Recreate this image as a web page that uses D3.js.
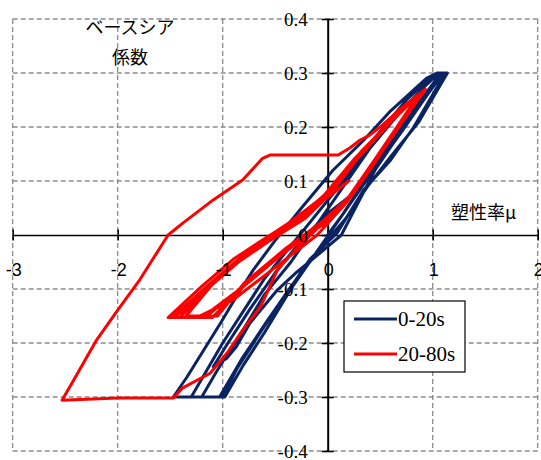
<!DOCTYPE html>
<html>
<head>
<meta charset="utf-8">
<script src="https://cdn.jsdelivr.net/npm/d3@7"></script>
<style>
  body { margin: 0; background: #fff; }
  svg { display: block; }
  .serif { font-family: "Liberation Serif", "Times New Roman", serif; }
  .sans { font-family: "Liberation Sans", Arial, Helvetica, sans-serif; }
  .jp { font-family: "Noto Sans CJK JP", sans-serif; }
</style>
</head>
<body>
<div id="chart"></div>
<script>
// axis ticks
const xTicks = [-3, -2, -1, 0, 1, 2];
const xTickLabels = ["-3", "-2", "-1", "0", "1", "2"];
const yTicks = [-0.4, -0.3, -0.2, -0.1, 0, 0.1, 0.2, 0.3, 0.4];
const yTickLabels = ["-0.4", "-0.3", "-0.2", "-0.1", "0", "0.1", "0.2", "0.3", "0.4"];

// series names
const seriesNames = ["0-20s", "20-80s"];

// 0-20s (ductility, base shear coefficient)
const blue = [
    [0, 0], [0.15, 0.04], [0.35, 0.1], [0.6, 0.17], [0.85, 0.24], [1.04, 0.29], [1.1, 0.3],
    [0.95, 0.26], [0.7, 0.19], [0.4, 0.11], [0.15, 0.04], [-0.1, -0.03], [-0.35, -0.1], [-0.6, -0.18], [-0.8, -0.24], [-0.98, -0.3], [-1.2, -0.3],
    [-1.05, -0.25], [-0.85, -0.19], [-0.6, -0.11], [-0.35, -0.05], [-0.1, 0.02], [0.15, 0.09], [0.4, 0.16], [0.7, 0.23], [0.95, 0.28], [1.06, 0.3], [1.12, 0.3],
    [0.82, 0.2], [0.6, 0.139], [0.34, 0.083], [0.09, 0.004], [-0.17, -0.045], [-0.43, -0.119], [-0.64, -0.18], [-0.86, -0.246], [-1.0, -0.3], [-1.47, -0.3],
    [-1.34, -0.263], [-1.18, -0.213], [-1.02, -0.163], [-0.87, -0.114], [-0.71, -0.065], [-0.5, -0.01], [-0.25, 0.05], [0.05, 0.12], [0.34, 0.175], [0.6, 0.23], [0.94, 0.29], [1.04, 0.3], [1.14, 0.3],
    [0.87, 0.21], [0.62, 0.15], [0.38, 0.09], [0.17, 0.03], [-0.05, -0.02], [-0.33, -0.09], [-0.58, -0.16], [-0.82, -0.23], [-1.03, -0.3], [-1.3, -0.3],
    [-1.15, -0.25], [-1.0, -0.2], [-0.8, -0.14], [-0.6, -0.08], [-0.35, -0.02], [-0.1, 0.04], [0.15, 0.1], [0.45, 0.18], [0.75, 0.25], [1.0, 0.295], [1.08, 0.3],
    [0.8, 0.22], [0.45, 0.12], [0.13, 0.0], [-0.04, -0.028], [-0.29, -0.068], [-0.48, -0.102], [-0.74, -0.163], [-0.87, -0.207], [-0.96, -0.228], [-1.09, -0.244],
    [-0.95, -0.2], [-0.75, -0.14], [-0.5, -0.07], [-0.25, -0.01], [0.0, 0.04], [0.2, 0.07]
];

// 20-80s
const red = [
    [0.2, 0.07], [0.0, 0.03], [-0.25, -0.015], [-0.48, -0.065], [-0.64, -0.133], [-0.81, -0.176], [-0.96, -0.219], [-1.12, -0.256], [-1.38, -0.283], [-1.47, -0.302], [-2.0, -0.302], [-2.53, -0.306],
    [-2.42, -0.269], [-2.2, -0.194], [-2.0, -0.139], [-1.79, -0.083], [-1.52, 0.0], [-1.38, 0.022], [-1.09, 0.065], [-0.81, 0.102], [-0.62, 0.142], [-0.55, 0.148], [0.1, 0.148], [0.21, 0.161], [0.31, 0.176], [0.4, 0.185], [0.5, 0.2], [0.7, 0.235], [0.93, 0.27],
    [0.75, 0.22], [0.5, 0.15], [0.25, 0.08], [0.0, 0.025], [-0.35, -0.02], [-0.75, -0.085], [-1.1, -0.153], [-1.52, -0.153],
    [-1.2, -0.095], [-0.9, -0.045], [-0.58, -0.004], [-0.26, 0.035], [0.05, 0.088], [0.3, 0.15], [0.55, 0.2], [0.9, 0.265],
    [0.72, 0.215], [0.47, 0.14], [0.22, 0.07], [-0.05, 0.02], [-0.4, -0.03], [-0.8, -0.095], [-1.2, -0.153], [-1.41, -0.153],
    [-1.1, -0.09], [-0.8, -0.04], [-0.5, 0.0], [-0.2, 0.04], [0.08, 0.095], [0.32, 0.155], [0.6, 0.21], [0.88, 0.262],
    [0.7, 0.21], [0.42, 0.13], [0.18, 0.06], [-0.1, 0.0], [-0.5, -0.06], [-0.9, -0.12], [-1.25, -0.153], [-1.46, -0.153],
    [-1.15, -0.1], [-0.85, -0.05], [-0.55, -0.01], [-0.22, 0.03], [0.02, 0.075], [0.3, 0.145], [0.58, 0.205], [0.86, 0.258],
    [0.68, 0.205], [0.4, 0.125], [0.15, 0.055], [-0.15, 0.005], [-0.5, -0.045], [-0.9, -0.11], [-1.15, -0.15], [-1.35, -0.15],
    [-1.05, -0.08], [-0.7, -0.02], [-0.35, 0.025], [-0.05, 0.07], [0.25, 0.14], [0.55, 0.2], [0.87, 0.26],
    [0.7, 0.212], [0.45, 0.14], [0.2, 0.07], [-0.05, 0.025], [-0.4, -0.025], [-0.8, -0.09], [-1.05, -0.15], [-1.48, -0.153],
    [-1.18, -0.1], [-0.88, -0.05], [-0.6, -0.01], [-0.3, 0.025], [0.0, 0.07], [0.2, 0.1]
];

const colors = ["#0a2463", "#ff0000"];

const width = 541, height = 460;

const svg = d3.select("#chart").append("svg")
    .attr("width", width)
    .attr("height", height);

// scales
const x = d3.scaleLinear().domain([-3, 2]).range([12.7, 537.7]);
const y = d3.scaleLinear().domain([-0.4, 0.4]).range([451, 19]);

// dashed grid
const grid = svg.append("g").attr("class", "grid")
    .attr("stroke", "#8c8c8c")
    .attr("stroke-width", 1.3)
    .attr("stroke-dasharray", "5,3");

grid.selectAll("line.gx")
    .data(xTicks.filter(d => d !== 0))
    .enter().append("line")
    .attr("x1", d => x(d)).attr("x2", d => x(d))
    .attr("y1", y(0.4)).attr("y2", y(-0.4));

grid.selectAll("line.gy")
    .data(yTicks.filter(d => d !== 0))
    .enter().append("line")
    .attr("x1", x(-3)).attr("x2", x(2))
    .attr("y1", d => y(d)).attr("y2", d => y(d));

// axes crossing at the origin
const xAxis = d3.axisBottom(x).tickValues(xTicks).tickSize(0).tickFormat("");
const yAxis = d3.axisLeft(y).tickValues(yTicks).tickSize(0).tickFormat("");

const gx = svg.append("g").attr("transform", "translate(0," + y(0) + ")").call(xAxis);
gx.select(".domain").attr("stroke", "#000").attr("stroke-width", 1.6);
gx.selectAll(".tick line").attr("y1", -5.5).attr("y2", 5.5).attr("stroke", "#000").attr("stroke-width", 1.6);

const gy = svg.append("g").attr("transform", "translate(" + x(0) + ",0)").call(yAxis);
gy.select(".domain").attr("stroke", "#000").attr("stroke-width", 2);
gy.selectAll(".tick line").attr("x1", -6).attr("x2", 6).attr("stroke", "#000").attr("stroke-width", 1.6);

// series
const line = d3.line().x(d => x(d[0])).y(d => y(d[1]));

[blue, red].forEach((s, i) => {
    svg.append("path")
        .datum(s)
        .attr("d", line)
        .attr("fill", "none")
        .attr("stroke", colors[i])
        .attr("stroke-width", 3)
        .attr("stroke-linejoin", "round")
        .attr("stroke-linecap", "round");
});

// tick labels (drawn over the lines like the original)
svg.append("g").selectAll("text")
    .data(xTicks)
    .enter().append("text")
    .attr("class", "sans")
    .attr("x", d => x(d) + 1)
    .attr("y", y(0) + 41)
    .attr("text-anchor", "middle")
    .style("font-size", "18px")
    .text((d, i) => xTickLabels[i]);

svg.append("g").selectAll("text")
    .data(yTicks)
    .enter().append("text")
    .attr("class", "serif")
    .attr("x", x(0) - 20)
    .attr("y", d => y(d))
    .attr("dy", "0.35em")
    .attr("text-anchor", "end")
    .style("font-size", "19px")
    .text((d, i) => yTickLabels[i]);

// axis titles
svg.append("text")
    .attr("class", "jp")
    .attr("x", 130).attr("y", 34)
    .attr("text-anchor", "middle")
    .style("font-size", "18px")
    .text("ベースシア");
svg.append("text")
    .attr("class", "jp")
    .attr("x", 130).attr("y", 64)
    .attr("text-anchor", "middle")
    .style("font-size", "18px")
    .text("係数");
svg.append("text")
    .attr("class", "jp")
    .attr("x", 451).attr("y", 219)
    .style("font-size", "18px")
    .text("塑性率μ");

// legend
const legend = svg.append("g").attr("transform", "translate(344,301)");
legend.append("rect")
    .attr("width", 121).attr("height", 71)
    .attr("fill", "#fff").attr("stroke", "#000").attr("stroke-width", 1.2);

seriesNames.forEach((name, i) => {
    const ly = 18 + i * 35;
    legend.append("line")
        .attr("x1", 10).attr("x2", 53)
        .attr("y1", ly).attr("y2", ly)
        .attr("stroke", colors[i]).attr("stroke-width", 3);
    legend.append("text")
        .attr("class", "serif")
        .attr("x", 54).attr("y", ly)
        .attr("dy", "0.35em")
        .style("font-size", "21px")
        .text(name);
});
</script>
</body>
</html>
